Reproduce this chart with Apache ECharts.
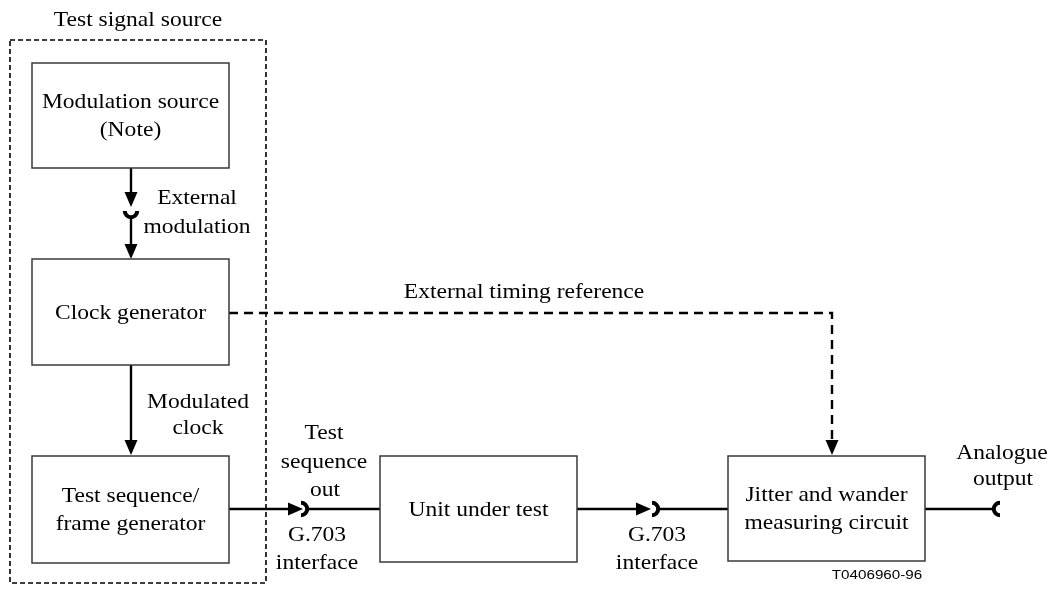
<!DOCTYPE html>
<html>
<head>
<meta charset="utf-8">
<title>Jitter and wander test set-up</title>
<script src="https://cdn.jsdelivr.net/npm/echarts@6/dist/echarts.min.js"></script>
<style>
  html, body { margin: 0; padding: 0; background: #fff; }
  #chart { width: 1056px; height: 591px; }
</style>
</head>
<body>
<div id="chart"></div>
<script>
// Diagram units = picture pixels, drawn through a hidden value grid (y runs downwards)

// blocks
const boxLabels = [
  'Modulation source\n(Note)',
  'Clock generator',
  'Test sequence/\nframe generator',
  'Unit under test',
  'Jitter and wander\nmeasuring circuit'
];
const boxCorners = [
  [32, 63, 229, 168],
  [32, 259, 229, 365],
  [32, 456, 229, 563],
  [380, 456, 577, 562],
  [728, 456, 925, 561]
];

// dashed frame round the source
const frameLabel = 'Test signal source';
const frameCorners = [10, 40, 266, 583];

// connections
const linkPaths = [
  [[131, 168], [131, 207]],
  [[131, 218], [131, 259]],
  [[131, 365], [131, 455]],
  [[229, 509], [303, 509]],
  [[309, 509], [380, 509]],
  [[577, 509], [651, 509]],
  [[659, 509], [728, 509]],
  [[925, 509], [994, 509]],
  [[229, 313], [832, 313], [832, 455]]
];
const linkArrow = [true, true, true, true, false, true, false, false, true];
const linkDashed = [false, false, false, false, false, false, false, false, true];

// socket half-rings: centre and the side they open to
const socketAt = [[131, 211], [301, 509], [652, 509], [1000, 509]];
const socketOpen = ['up', 'left', 'left', 'right'];

// free text
const noteLabels = [
  'External', 'modulation', 'External timing reference', 'Modulated', 'clock',
  'Test', 'sequence', 'out', 'G.703', 'interface', 'G.703', 'interface',
  'Analogue', 'output'
];
const noteAt = [
  [197, 198], [197, 227], [524, 292], [198, 402], [198, 428],
  [324, 433], [324, 462], [325, 490], [317, 535], [317, 563], [657, 535], [657, 563],
  [1002, 453], [1003, 479]
];
const figureId = 'T0406960-96';
const figureIdAt = [877, 575];

const SERIF = '"Liberation Serif", "Times New Roman", serif';
const SANS = '"Liberation Sans", Arial, sans-serif';

function textEl(api, pos, text, size, family, stretch, lineHeight) {
  const p = api.coord(pos);
  return {
    type: 'text',
    x: p[0],
    y: p[1],
    scaleX: stretch,
    style: {
      x: 0, y: 0,
      text: text,
      fill: '#000',
      fontSize: size,
      fontFamily: family,
      align: 'center',
      verticalAlign: 'middle',
      lineHeight: lineHeight || size
    }
  };
}

const myChart = echarts.init(document.getElementById('chart'), null, { renderer: 'canvas' });

const option = {
  animation: false,
  backgroundColor: '#fff',
  grid: { left: 0, right: 0, top: 0, bottom: 0 },
  xAxis: { type: 'value', min: 0, max: 1056, show: false },
  yAxis: { type: 'value', min: 0, max: 591, inverse: true, show: false },
  series: [
    // dashed frame + its title
    {
      type: 'custom',
      coordinateSystem: 'cartesian2d',
      data: [frameCorners],
      renderItem: function (params, api) {
        const a = api.coord([api.value(0), api.value(1)]);
        const b = api.coord([api.value(2), api.value(3)]);
        return {
          type: 'group',
          children: [
            {
              type: 'rect',
              shape: { x: a[0], y: a[1], width: b[0] - a[0], height: b[1] - a[1] },
              style: { fill: null, stroke: '#000', lineWidth: 1.6, lineDash: [5, 3] }
            },
            textEl(api, [(api.value(0) + api.value(2)) / 2, 20], frameLabel, 22, SERIF, 1.07)
          ]
        };
      }
    },
    // connection lines with arrowheads
    {
      type: 'custom',
      coordinateSystem: 'cartesian2d',
      data: linkPaths.map((p, i) => [i]),
      renderItem: function (params, api) {
        const i = api.value(0);
        const pts = linkPaths[i].map(q => api.coord(q));
        const children = [];
        const n = pts.length;
        const tip = pts[n - 1];
        const prev = pts[n - 2];
        const len = Math.hypot(tip[0] - prev[0], tip[1] - prev[1]);
        const dx = (tip[0] - prev[0]) / len, dy = (tip[1] - prev[1]) / len;
        const head = 15, half = 6.5;
        const linePts = pts.slice();
        if (linkArrow[i]) {
          linePts[n - 1] = [tip[0] - dx * (head - 2), tip[1] - dy * (head - 2)];
        }
        children.push({
          type: 'polyline',
          shape: { points: linePts },
          style: {
            fill: null, stroke: '#000', lineWidth: 2.4,
            lineDash: linkDashed[i] ? [9, 6] : null
          }
        });
        if (linkArrow[i]) {
          const bx = tip[0] - dx * head, by = tip[1] - dy * head;
          children.push({
            type: 'polygon',
            shape: { points: [tip, [bx - dy * half, by + dx * half], [bx + dy * half, by - dx * half]] },
            style: { fill: '#000', stroke: null }
          });
        }
        return { type: 'group', children: children };
      }
    },
    // sockets
    {
      type: 'custom',
      coordinateSystem: 'cartesian2d',
      data: socketAt.map((p, i) => [p[0], p[1], i]),
      renderItem: function (params, api) {
        const c = api.coord([api.value(0), api.value(1)]);
        const side = socketOpen[api.value(2)];
        const PI = Math.PI;
        const ang = {
          up: [0, PI],
          left: [-PI / 2, PI / 2],
          right: [PI / 2, 3 * PI / 2]
        }[side];
        return {
          type: 'arc',
          shape: { cx: c[0], cy: c[1], r: 6.2, startAngle: ang[0], endAngle: ang[1], clockwise: true },
          style: { fill: null, stroke: '#000', lineWidth: 4 }
        };
      }
    },
    // blocks
    {
      type: 'custom',
      coordinateSystem: 'cartesian2d',
      data: boxCorners.map((c, i) => [c[0], c[1], c[2], c[3], i]),
      renderItem: function (params, api) {
        const a = api.coord([api.value(0), api.value(1)]);
        const b = api.coord([api.value(2), api.value(3)]);
        const label = boxLabels[api.value(4)];
        return {
          type: 'group',
          children: [
            {
              type: 'rect',
              shape: { x: a[0], y: a[1], width: b[0] - a[0], height: b[1] - a[1] },
              style: { fill: '#fff', stroke: '#3a3a3a', lineWidth: 1.5 }
            },
            textEl(api, [(api.value(0) + api.value(2)) / 2, (api.value(1) + api.value(3)) / 2 + 1],
              label, 22, SERIF, 1.07, 28)
          ]
        };
      }
    },
    // free labels
    {
      type: 'custom',
      coordinateSystem: 'cartesian2d',
      data: noteAt.map((p, i) => [p[0], p[1], i]),
      renderItem: function (params, api) {
        return textEl(api, [api.value(0), api.value(1)], noteLabels[api.value(2)], 22, SERIF, 1.07);
      }
    },
    // figure id
    {
      type: 'custom',
      coordinateSystem: 'cartesian2d',
      data: [figureIdAt],
      renderItem: function (params, api) {
        return textEl(api, [api.value(0), api.value(1)], figureId, 13, SANS, 1.17);
      }
    }
  ]
};

myChart.setOption(option);
</script>
</body>
</html>
